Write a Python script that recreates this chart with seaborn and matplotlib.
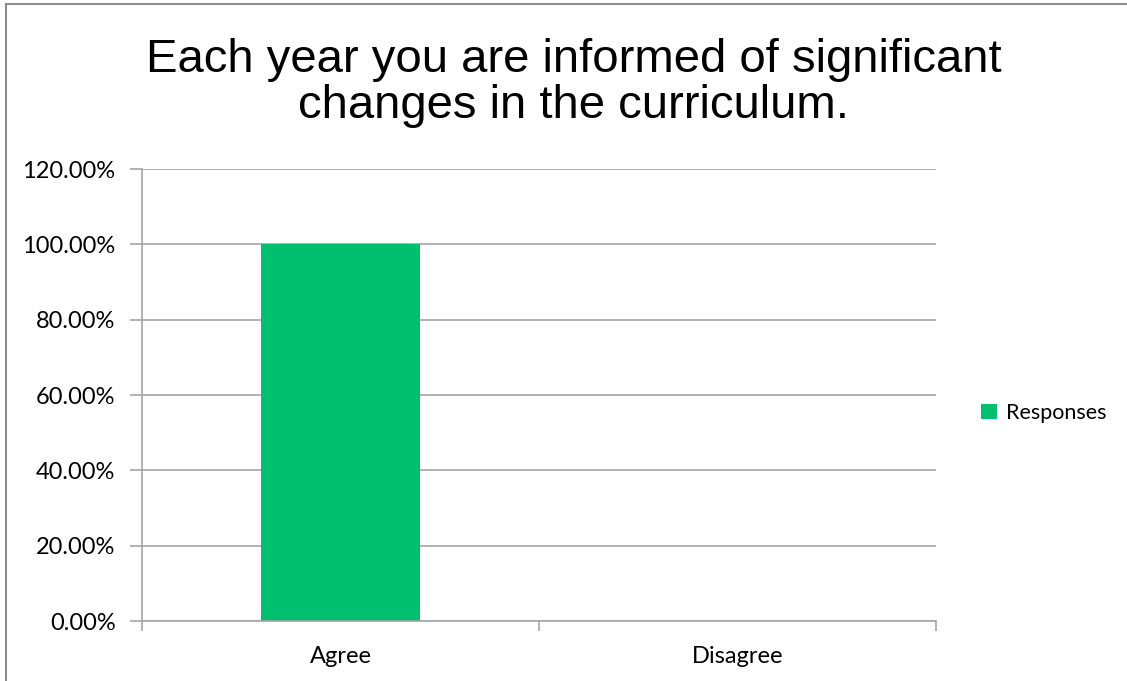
import matplotlib
matplotlib.use("Agg")
import matplotlib.pyplot as plt
import seaborn as sns
import pandas as pd
from matplotlib.patches import Rectangle
from matplotlib.ticker import PercentFormatter

# data
categories = ["Agree", "Disagree"]
responses = [1.00, 0.00]
series_name = "Responses"
title_lines = ["Each year you are informed of significant", "changes in the curriculum."]

df = pd.DataFrame({"category": categories, "value": responses, "series": series_name})

sns.set_style("white")
plt.rcParams['font.family'] = ['Lato', 'DejaVu Sans']
plt.rcParams['text.color'] = 'black'

fig = plt.figure(figsize=(11.27, 6.81), dpi=100)
ax = fig.add_axes([142 / 1127, 1 - 621 / 681, (936 - 142) / 1127, (621 - 169) / 681])

grid_col = "#a6a6a6"
sns.barplot(data=df, x="category", y="value", hue="series", palette=["#00c070"],
            width=0.4, ax=ax, saturation=1, legend=True, linewidth=0, edgecolor="none")

ax.set_ylim(0, 1.2)
ax.set_xlim(-0.5, 1.5)
ax.set_yticks([0, 0.2, 0.4, 0.6, 0.8, 1.0, 1.2])
ax.yaxis.set_major_formatter(PercentFormatter(1.0, decimals=2))
ax.yaxis.grid(True, color=grid_col, linewidth=1.2)
ax.set_axisbelow(True)
ax.set_xlabel("")
ax.set_ylabel("")

for s in ["top", "right"]:
    ax.spines[s].set_visible(False)
for s in ["left", "bottom"]:
    ax.spines[s].set_color(grid_col)
    ax.spines[s].set_linewidth(1.2)

ax.tick_params(axis="y", left=True, length=9, width=1.2, color=grid_col,
               labelsize=17, pad=10, labelcolor="black")
# x ticks on category boundaries, labels at centres
ax.set_xticks([-0.5, 0.5, 1.5])
ax.set_xticklabels([])
ax.set_xticks([0, 1], minor=True)
ax.set_xticklabels(categories, minor=True)
ax.tick_params(axis="x", which="major", bottom=True, length=7, width=1.2, color=grid_col)
ax.tick_params(axis="x", which="minor", bottom=False, labelsize=17, pad=16, labelcolor="black")

leg = ax.legend(loc="center left", bbox_to_anchor=(1.032, 0.46), frameon=False,
                fontsize=15.5, handlelength=0.75, handleheight=0.75, handletextpad=0.4)

# title, one line at a time so the baselines sit where they do in the picture
cx = 0.5 * (140 + 1008) / 1127
for line, base_y in zip(title_lines, [72, 118]):
    fig.text(cx, 1 - base_y / 681, line, ha="center", va="baseline",
             fontsize=34, color="black", family=["Liberation Sans", "DejaVu Sans"])

# outer chart frame (clipped at right/bottom like the screenshot)
fig.patches.append(Rectangle((6 / 1127, -0.5), 3, 1.5 - 4 / 681,
                             transform=fig.transFigure, fill=False,
                             edgecolor="#8c8c8c", linewidth=1.5))

fig.savefig("out.png", dpi=100)
